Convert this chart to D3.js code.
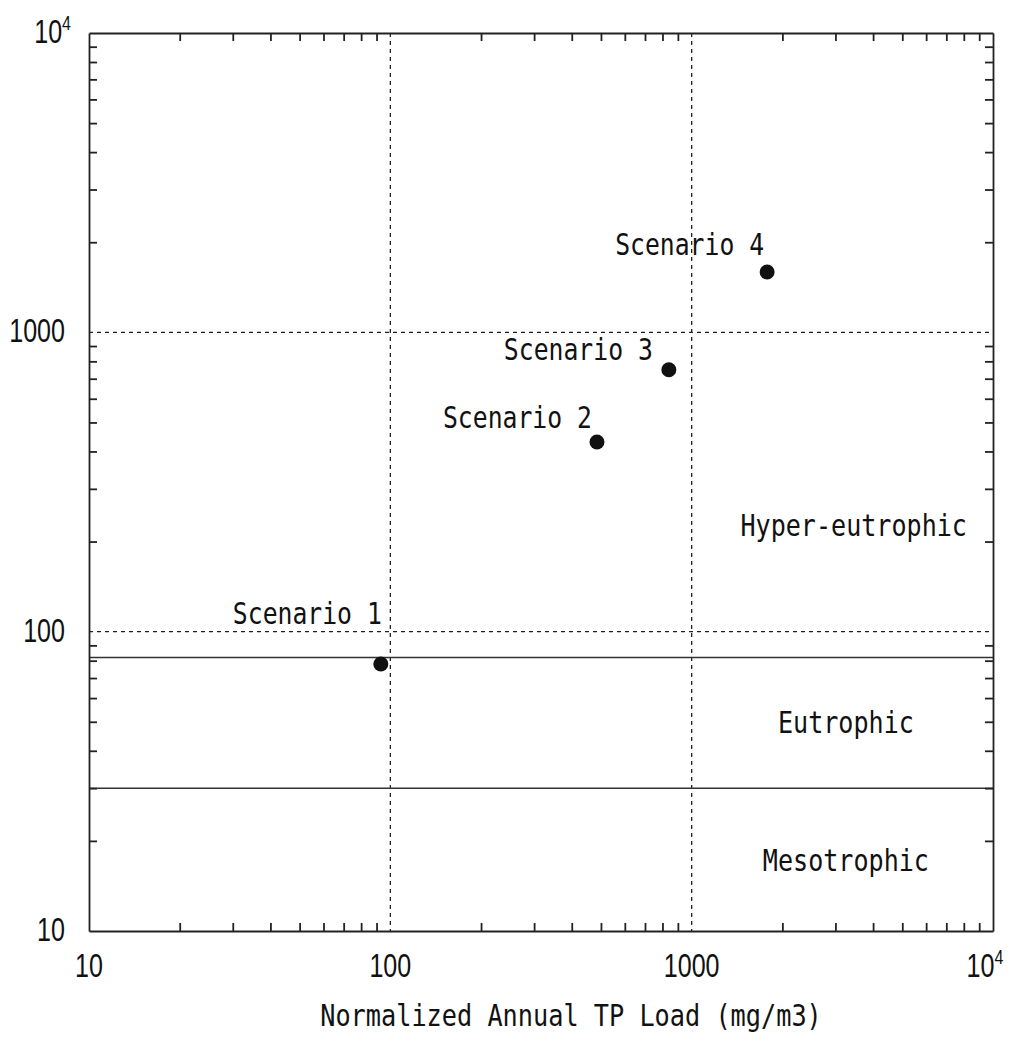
<!DOCTYPE html>
<html lang="en">
<head>
    <meta charset="UTF-8">
    <title>Normalized Annual TP Load</title>
    <script src="https://d3js.org/d3.v7.min.js"></script>
    <style>
        body {
            margin: 0;
            background: #fff;
        }
        .tick-label {
            font-family: "Liberation Sans", Arial, sans-serif;
            font-size: 33px;
            fill: #111;
        }
        .mono {
            font-family: "DejaVu Sans Mono", "Liberation Mono", monospace;
            font-size: 30px;
            fill: #111;
        }
        .grid {
            stroke: #222;
            stroke-width: 1.3px;
            stroke-dasharray: 4 4;
        }
        .boundary {
            stroke: #333;
            stroke-width: 1.6px;
        }
        .axis path, .axis line {
            stroke: #222;
            stroke-width: 1.8px;
        }
    </style>
</head>
<body>
    <svg width="1012" height="1041"></svg>

    <script>
        // data
        const scenarios = ["Scenario 1", "Scenario 2", "Scenario 3", "Scenario 4"];
        const tpLoad = [93, 485, 840, 1780];
        const yValue = [78, 430, 750, 1590];

        const zones = ["Hyper-eutrophic", "Eutrophic", "Mesotrophic"];
        const zoneY = [208, 46, 15.9];
        const zoneX = [3450, 3250, 3250];
        const boundaries = [82, 30];

        const majorTicks = [10, 100, 1000, 10000];
        const majorLabels = ["10", "100", "1000", "10^4"];
        const gridValues = [100, 1000];
        const xTitle = "Normalized Annual TP Load (mg/m3)";

        // label offsets (px) from each point: [right end dx, baseline dy]
        const labelOffset = [[1, -40], [-5, -14], [-16, -10], [-3, -17]];

        const svg = d3.select("svg");
        const margin = {left: 89, top: 33, right: 19, bottom: 110};
        const width = 1012 - margin.left - margin.right,
              height = 1041 - margin.top - margin.bottom;

        const g = svg.append("g")
            .attr("transform", `translate(${margin.left},${margin.top})`);

        const x = d3.scaleLog().domain([10, 10000]).range([0, width]);
        const y = d3.scaleLog().domain([10, 10000]).range([height, 0]);

        // minor tick values 20..90, 200..900, 2000..9000
        const minor = [];
        [10, 100, 1000].forEach(d => {
            for (let k = 2; k <= 9; k++) minor.push(d * k);
        });

        // grid
        g.selectAll(".gx").data(gridValues).enter().append("line")
            .attr("class", "grid")
            .attr("x1", d => x(d)).attr("x2", d => x(d))
            .attr("y1", 0).attr("y2", height);
        g.selectAll(".gy").data(gridValues).enter().append("line")
            .attr("class", "grid")
            .attr("y1", d => y(d)).attr("y2", d => y(d))
            .attr("x1", 0).attr("x2", width);

        // trophic boundaries
        g.selectAll(".boundary").data(boundaries).enter().append("line")
            .attr("class", "boundary")
            .attr("y1", d => y(d)).attr("y2", d => y(d))
            .attr("x1", 0).attr("x2", width);

        // axes with inward minor ticks
        const tickLen = -8;
        g.append("g").attr("class", "axis")
            .attr("transform", `translate(0,${height})`)
            .call(d3.axisBottom(x).tickValues(minor).tickSizeInner(tickLen).tickSizeOuter(0).tickFormat(""));
        g.append("g").attr("class", "axis")
            .call(d3.axisTop(x).tickValues(minor).tickSizeInner(tickLen).tickSizeOuter(0).tickFormat(""));
        g.append("g").attr("class", "axis")
            .call(d3.axisLeft(y).tickValues(minor).tickSizeInner(tickLen).tickSizeOuter(0).tickFormat(""));
        g.append("g").attr("class", "axis")
            .attr("transform", `translate(${width},0)`)
            .call(d3.axisRight(y).tickValues(minor).tickSizeInner(tickLen).tickSizeOuter(0).tickFormat(""));

        // tick labels (narrowed with scaleX)
        const squeeze = 0.76;
        function writeLabel(px, py, anchor, txt) {
            const parts = txt.split("^");
            const t = g.append("g")
                .attr("transform", `translate(${px},${py}) scale(${squeeze},1)`)
                .append("text")
                .attr("class", "tick-label")
                .attr("text-anchor", anchor);
            t.append("tspan").text(parts[0]);
            if (parts[1]) {
                t.append("tspan")
                    .attr("font-size", "21px")
                    .attr("dy", -13)
                    .text(parts[1]);
            }
        }

        majorTicks.forEach((v, i) => {
            const sup = majorLabels[i].includes("^");
            writeLabel(x(v) - (sup ? 8 : 0), height + 46, "middle", majorLabels[i]);
            writeLabel(sup ? -18 : -24, y(v) + 10, "end", majorLabels[i]);
        });

        const charW = 14.9;

        // x title
        g.append("text")
            .attr("class", "mono")
            .attr("x", width / 2 + 30)
            .attr("y", height + 95)
            .attr("text-anchor", "middle")
            .attr("textLength", xTitle.length * 15.2)
            .attr("lengthAdjust", "spacingAndGlyphs")
            .text(xTitle);

        // zone labels
        g.selectAll(".zone").data(zones).enter().append("text")
            .attr("class", "mono zone")
            .attr("x", (d, i) => x(zoneX[i]))
            .attr("y", (d, i) => y(zoneY[i]))
            .attr("text-anchor", "middle")
            .attr("textLength", d => d.length * 15.1)
            .attr("lengthAdjust", "spacingAndGlyphs")
            .text(d => d);

        // points
        g.selectAll(".dot").data(scenarios).enter().append("circle")
            .attr("class", "dot")
            .attr("cx", (d, i) => x(tpLoad[i]))
            .attr("cy", (d, i) => y(yValue[i]))
            .attr("r", 7.5)
            .attr("fill", "#111");

        g.selectAll(".scn").data(scenarios).enter().append("text")
            .attr("class", "mono scn")
            .attr("x", (d, i) => x(tpLoad[i]) + labelOffset[i][0])
            .attr("y", (d, i) => y(yValue[i]) + labelOffset[i][1])
            .attr("text-anchor", "end")
            .attr("textLength", d => d.length * charW)
            .attr("lengthAdjust", "spacingAndGlyphs")
            .text(d => d);
    </script>
</body>
</html>
